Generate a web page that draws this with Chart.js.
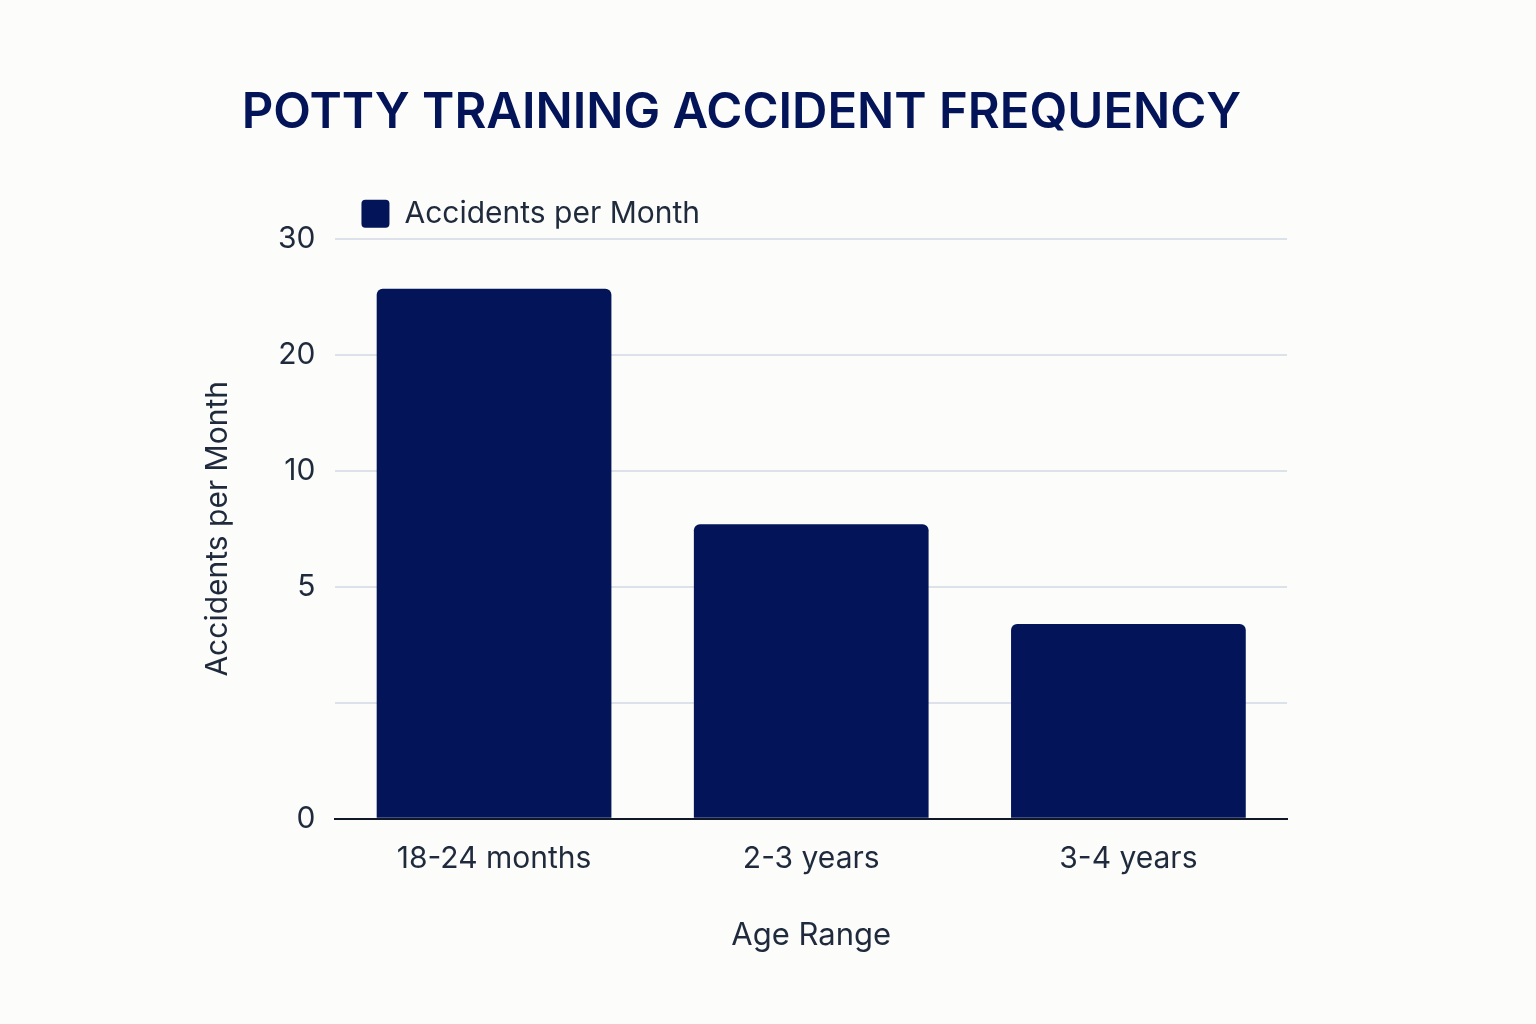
<!DOCTYPE html>
<html>
<head>
<meta charset="utf-8">
<script src="https://cdn.jsdelivr.net/npm/chart.js@4"></script>
<style>
  html, body { margin: 0; background: #fcfcfa; }
  #wrap { width: 1536px; height: 1024px; }
</style>
</head>
<body>
<div id="wrap"><canvas id="c" width="1536" height="1024"></canvas></div>
<script>
const categories = ['18-24 months', '2-3 years', '3-4 years'];
const accidents = [25.7, 7.7, 4.2];
// the y axis in the source is evenly spaced but labelled unevenly
const tickValues = [0, 2.5, 5, 10, 20, 30];
const tickLabels = ['0', '', '5', '10', '20', '30'];

const NAVY = '#031459';
const TEXT = '#1f2a3c';

// map a real value onto the evenly spaced tick index
const toIndex = (v) => {
  for (let i = 1; i < tickValues.length; i++) {
    if (v <= tickValues[i]) {
      const a = tickValues[i - 1], b = tickValues[i];
      return i - 1 + (v - a) / (b - a);
    }
  }
  return tickValues.length - 1;
};

// push the legend over the plot and leave a gap under it, like the source
const legendShift = {
  id: 'legendShift',
  beforeLayout(chart) {
    const legend = chart.legend;
    if (legend && !legend._gapPatched) {
      const orig = legend.afterFit;
      legend.afterFit = function () {
        orig.call(this);
        this.height += 26;
      };
      legend._gapPatched = true;
    }
  },
  afterLayout(chart) {
    if (chart.legend) chart.legend.left = chart.chartArea.left + 8;
  },
};

new Chart(document.getElementById('c'), {
  type: 'bar',
  data: {
    labels: categories,
    datasets: [{
      label: 'Accidents per Month',
      data: accidents.map(toIndex),
      backgroundColor: NAVY,
      borderRadius: 6,
      borderSkipped: 'bottom',
      categoryPercentage: 0.74,
      barPercentage: 1,
    }],
  },
  options: {
    responsive: false,
    animation: false,
    layout: { padding: { left: 196, right: 249, top: 84, bottom: 66 } },
    plugins: {
      title: {
        display: true,
        text: 'POTTY TRAINING ACCIDENT FREQUENCY',
        color: NAVY,
        font: { family: 'Inter', size: 49, weight: '600' },
        padding: { top: 0, bottom: 38 },
      },
      legend: {
        position: 'top',
        align: 'start',
        labels: {
          color: TEXT,
          font: { family: 'Inter', size: 30 },
          boxWidth: 28,
          boxHeight: 28,
          useBorderRadius: true,
          borderRadius: 4,
          padding: 18,
        },
      },
      tooltip: { enabled: false },
    },
    scales: {
      x: {
        grid: { display: false },
        border: { color: '#111827', width: 2 },
        ticks: { color: TEXT, font: { family: 'Inter', size: 30 }, padding: 14 },
        title: {
          display: true,
          text: 'Age Range',
          color: TEXT,
          font: { family: 'Inter', size: 31 },
          padding: { top: 26 },
        },
      },
      y: {
        min: 0,
        max: tickValues.length - 1,
        ticks: {
          stepSize: 1,
          color: TEXT,
          font: { family: 'Inter', size: 30 },
          padding: 20,
          callback: (v) => tickLabels[v] ?? '',
        },
        grid: { color: '#dde1ea', lineWidth: 2, drawTicks: false },
        border: { display: false },
        title: {
          display: true,
          text: 'Accidents per Month',
          color: TEXT,
          font: { family: 'Inter', size: 30 },
          padding: { bottom: 22 },
        },
      },
    },
  },
  plugins: [legendShift],
});
</script>
</body>
</html>
